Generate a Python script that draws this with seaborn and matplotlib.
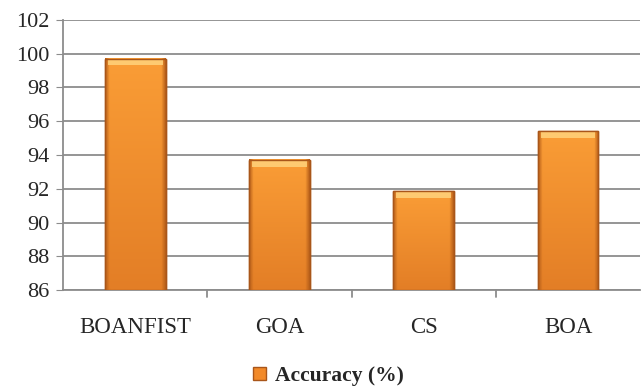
import numpy as np
import pandas as pd
import matplotlib
matplotlib.use('Agg')
from matplotlib import pyplot as plt
from matplotlib.colors import to_rgb
from matplotlib.patches import Patch, Rectangle
import seaborn as sns

categories = ['BOANFIST', 'GOA', 'CS', 'BOA']
accuracy = [99.7, 93.7, 91.85, 95.4]
y_ticks = [86, 88, 90, 92, 94, 96, 98, 100, 102]

sns.set_style('white')
plt.rcParams['font.family'] = ['Liberation Serif', 'DejaVu Serif']

df = pd.DataFrame({'method': categories, 'acc': accuracy})

fig = plt.figure(figsize=(6.44, 3.88), dpi=100)
ax = fig.add_axes([0.098, 0.252, 0.896, 0.697])

sns.barplot(data=df, x='method', y='acc', color='#F7962F', width=0.42,
            edgecolor='#B85C14', linewidth=1.0, saturation=1, ax=ax, zorder=3)

ax.set_ylim(86, 102)
ax.set_xlim(-0.5, 3.5)
ax.set_yticks(y_ticks)
ax.grid(axis='y', color='#8C8C8C', linewidth=1.3, zorder=0)
ax.set_xlabel('')
ax.set_ylabel('')

# shading: lighter at top, darker to the bottom, dark thin rims at the sides
top_c = np.array(to_rgb('#FA9D36'))
bot_c = np.array(to_rgb('#E37E26'))
rim_c = np.array(to_rgb('#B8601A'))
ny, nx = 100, 60
v = np.linspace(0, 1, ny)[:, None, None]
base = top_c * (1 - v) + bot_c * v
xs = np.linspace(-1, 1, nx)
edge = np.clip((np.abs(xs) - 0.86) / 0.14, 0, 1)[None, :, None]
shade = base * (1 - edge) + rim_c * edge
for p in list(ax.patches):
    x0, w = p.get_x(), p.get_width()
    top = p.get_y() + p.get_height()
    bottom = 86
    ax.imshow(shade, aspect='auto', extent=[x0, x0 + w, bottom, top],
              origin='upper', zorder=3.5, interpolation='bilinear')
    ax.add_patch(Rectangle((x0, bottom), w, top - bottom, fill=False,
                           edgecolor='#A9561A', linewidth=1.0, zorder=3.7))
    # light bevel at the top
    ax.fill_between([x0 + 0.02, x0 + w - 0.02], top - 0.4, top - 0.04,
                    color='#FFD37C', alpha=0.85, zorder=3.6, linewidth=0)
ax.set_xlim(-0.5, 3.5)
ax.set_ylim(86, 102)

for s in ['top', 'right']:
    ax.spines[s].set_visible(False)
ax.spines['left'].set_color('#8C8C8C')
ax.spines['bottom'].set_color('#8C8C8C')
ax.spines['left'].set_linewidth(1.3)
ax.spines['bottom'].set_linewidth(1.3)

ax.tick_params(axis='y', left=True, length=5, color='#8C8C8C', labelsize=16, pad=5)
ax.tick_params(axis='x', bottom=False, labelsize=16.5, pad=16)
for xb in [0.5, 1.5, 2.5]:
    ax.plot([xb, xb], [86, 85.6], color='#8C8C8C', lw=1.3, clip_on=False)

handle = Patch(facecolor='#F28A2A', edgecolor='#A9561A', label='Accuracy (%)')
leg = fig.legend(handles=[handle], loc='lower center', bbox_to_anchor=(0.51, -0.045),
                 frameon=False, handlelength=0.6, handleheight=0.6, handletextpad=0.4,
                 prop={'size': 15.5, 'weight': 'bold'})

plt.savefig('out.png', dpi=100)
